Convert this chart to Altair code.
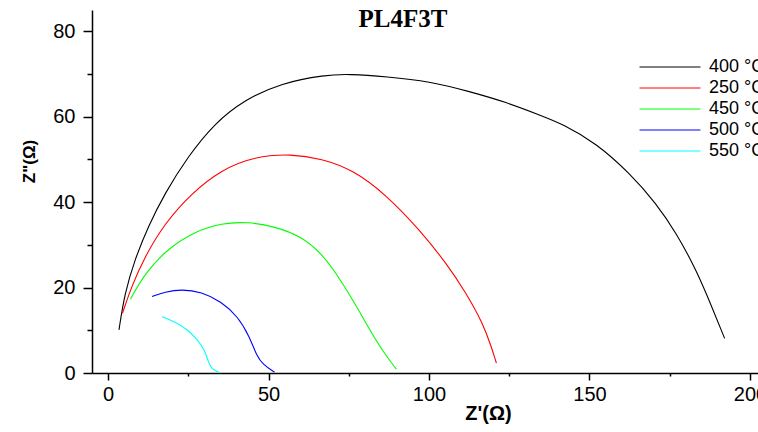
import altair as alt
import pandas as pd

# ---- data ----
series_order = ["400 °C", "250 °C", "450 °C", "500 °C", "550 °C"]
series_colors = ["#000000", "#ff0000", "#00ff00", "#0000ff", "#00ffff"]

x400 = [3.4, 5.2, 8.3, 12.5, 17.7, 24.9, 33.2, 42.6, 54.0, 67.5, 75.3, 86.7, 100.2, 112.7, 124.1, 134.5,
        141.7, 152.1, 162.5, 170.8, 177.1, 183.3, 188.5, 192.1]
y400 = [10.1, 18.7, 26.5, 34.3, 42.1, 50.7, 58.5, 64.0, 67.9, 69.8, 70.0, 69.4, 68.3, 65.9, 63.4, 60.4,
        58.3, 53.8, 46.8, 39.7, 32.7, 24.1, 14.8, 8.1]

x250 = [4.5, 7.3, 11.4, 17.7, 26.0, 35.3, 45.7, 57.1, 66.5, 76.3, 86.7, 97.1, 105.4, 111.6, 116.8, 119.4, 121.0]
y250 = [14.0, 20.2, 27.2, 35.1, 42.1, 47.6, 50.7, 51.3, 50.2, 47.6, 41.7, 33.5, 25.7, 18.7, 11.6, 6.2, 2.3]

x450 = [7.0, 11.4, 18.7, 27.0, 35.3, 43.6, 51.9, 60.2, 66.5, 71.1, 76.3, 81.5, 85.7, 89.8]
y450 = [17.3, 23.3, 29.2, 33.1, 35.1, 35.4, 34.3, 32.0, 28.0, 23.3, 17.1, 10.1, 5.0, 0.9]

x500 = [13.7, 17.7, 22.9, 29.1, 35.3, 40.5, 44.1, 46.2, 48.3, 51.9]
y500 = [17.9, 19.0, 19.6, 19.0, 16.7, 13.2, 8.5, 4.2, 1.9, 0.2]

x550 = [16.9, 20.8, 24.9, 28.0, 30.1, 31.2, 32.2, 34.8]
y550 = [13.2, 12.0, 10.1, 7.7, 5.4, 2.7, 0.9, 0.1]

x_ticks = [0, 25, 50, 75, 100, 125, 150, 175, 200]
y_ticks = [0, 10, 20, 30, 40, 50, 60, 70, 80]

rows = []
for name, xs, ys in zip(series_order, [x400, x250, x450, x500, x550], [y400, y250, y450, y500, y550]):
    for i, (a, b) in enumerate(zip(xs, ys)):
        rows.append({"series": name, "order": i, "x": a, "y": b})
df = pd.DataFrame(rows)

chart = alt.Chart(df).mark_line(strokeWidth=1.1, interpolate="basis").encode(
    x=alt.X("x:Q",
            scale=alt.Scale(domain=[-5, 202.5], nice=False, zero=False),
            axis=alt.Axis(title="Z'(Ω)", values=x_ticks, grid=False,
                          labelExpr="datum.value % 50 === 0 ? datum.label : ''",
                          tickSize={"condition": {"test": "datum.value % 50 === 0", "value": 7}, "value": 3},
                          titleX=396, titleY=40, titleBaseline="middle", titleAlign="center",
                          titleFontSize=20, labelPadding=4)),
    y=alt.Y("y:Q",
            scale=alt.Scale(domain=[0, 85], nice=False),
            axis=alt.Axis(title='Z"(Ω)', values=y_ticks, grid=False,
                          labelExpr="datum.value % 20 === 0 ? datum.label : ''",
                          tickSize={"condition": {"test": "datum.value % 20 === 0", "value": 9}, "value": 5},
                          titleX=-63, titleY=151, titleBaseline="middle", titleAlign="center",
                          titleFontSize=17, labelPadding=8)),
    color=alt.Color("series:N",
                    scale=alt.Scale(domain=series_order, range=series_colors),
                    legend=alt.Legend(title=None, orient="none", legendX=567, legendY=46,
                                      symbolType="M-3,0H3", symbolSize=413, symbolStrokeWidth=1,
                                      symbolFillColor="transparent",
                                      labelFontSize=18, labelFont="Liberation Sans", labelOffset=28,
                                      labelColor="black", padding=0, rowPadding=1)),
    order="order:Q",
).properties(
    width=666, height=363,
    padding={"left": 92, "top": 10, "right": 0, "bottom": 59},
    autosize=alt.AutoSizeParams(type="none"),
    background="white",
    title=alt.TitleParams(text="PL4F3T", font="Liberation Serif", fontSize=25, fontWeight="bold",
                          anchor="middle", frame="group", dx=-22, offset=-22, color="black"),
).configure_view(stroke=None).configure_axis(
    grid=False, domainColor="black", domainWidth=1.5, tickColor="black", tickWidth=1.5,
    labelFont="Liberation Sans", labelFontSize=20, labelColor="black",
    titleFont="Liberation Sans", titleFontWeight="bold", titleColor="black",
)

chart.save("out.html", embed_options={"renderer": "svg", "actions": False})
